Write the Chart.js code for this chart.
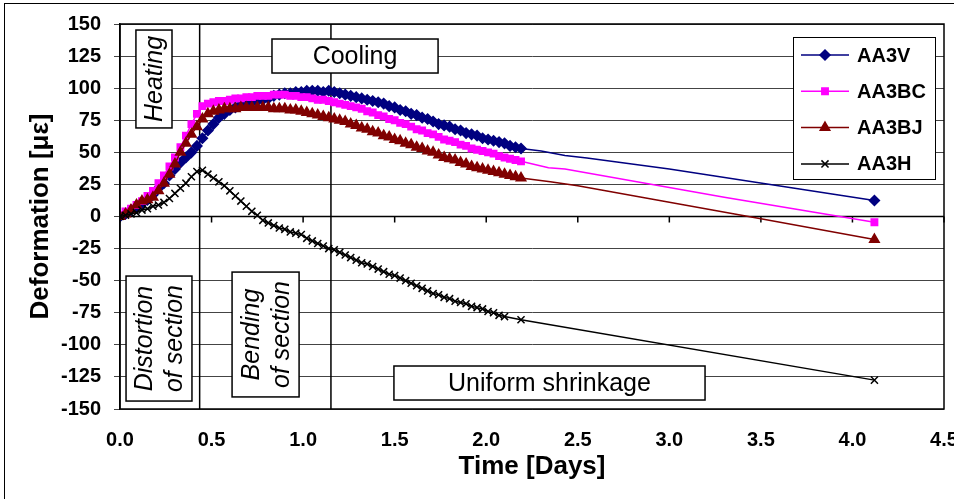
<!DOCTYPE html>
<html>
<head>
<meta charset="utf-8">
<script src="https://cdn.jsdelivr.net/npm/chart.js@4.4.1/dist/chart.umd.min.js"></script>
<style>
  body { margin: 0; background: #fff; }
  canvas { display: block; }
</style>
</head>
<body>
<canvas id="myChart" width="954" height="499"></canvas>
<script>
// dense logging period (days)
const days = [0, 0.03, 0.06, 0.09, 0.12, 0.15, 0.18, 0.21, 0.24, 0.27, 0.30, 0.33, 0.36, 0.39, 0.42, 0.45, 0.48, 0.51, 0.54, 0.57,
  0.60, 0.63, 0.66, 0.69, 0.72, 0.75, 0.78, 0.81, 0.84, 0.87, 0.90, 0.93, 0.96, 0.99, 1.02, 1.05, 1.08, 1.11, 1.14, 1.17,
  1.20, 1.23, 1.26, 1.29, 1.32, 1.35, 1.38, 1.41, 1.44, 1.47, 1.50, 1.53, 1.56, 1.59, 1.62, 1.65, 1.68, 1.71, 1.74, 1.77,
  1.80, 1.83, 1.86, 1.89, 1.92, 1.95, 1.98, 2.01, 2.04, 2.07, 2.10, 2.13, 2.16, 2.19];

const aa3v = [0, 2, 5, 7, 10, 13, 17, 22, 26, 32, 37, 42, 46, 50, 55, 61, 67, 72, 77, 80,
  83, 85, 87, 88, 89, 90, 91, 92, 94, 95, 96, 96, 97, 97, 98, 98, 98, 97, 98, 97,
  96, 95, 94, 93, 92, 91, 90, 89, 88, 86, 85, 83, 82, 80, 79, 77, 76, 74, 72, 71,
  70, 68, 67, 65, 64, 63, 61, 60, 59, 58, 57, 55, 54, 53];
const aa3bc = [1, 4, 6, 9, 12, 16, 20, 26, 32, 39, 46, 54, 63, 72, 80, 86, 88, 89, 90, 90,
  91, 92, 92, 93, 93, 94, 94, 94, 95, 95, 95, 94, 94, 93, 93, 92, 91, 91, 90, 89,
  88, 87, 86, 85, 84, 82, 81, 79, 78, 76, 75, 73, 72, 70, 68, 67, 65, 64, 62, 60,
  59, 58, 56, 55, 53, 52, 51, 50, 49, 47, 46, 45, 44, 43];
const aa3bj = [0, 2, 5, 9, 12, 13, 15, 20, 26, 33, 41, 50, 57, 64, 70, 76, 80, 82, 83, 84,
  84, 84, 85, 85, 85, 85, 85, 85, 84, 84, 84, 83, 83, 82, 81, 80, 79, 78, 77, 76,
  75, 74, 72, 71, 69, 68, 66, 65, 63, 62, 60, 59, 57, 56, 54, 53, 51, 50, 48, 46,
  45, 44, 42, 41, 39, 38, 37, 36, 35, 34, 33, 32, 31, 30];
const aa3h = [0, 1, 2, 3, 5, 6, 8, 9, 11, 14, 18, 22, 26, 31, 35, 36, 33, 30, 27, 24,
  20, 16, 12, 8, 4, 1, -3, -5, -7, -9, -10, -12, -13, -14, -17, -19, -21, -23, -25, -26,
  -28, -30, -32, -34, -36, -37, -39, -41, -43, -45, -46, -48, -50, -52, -54, -56, -58, -60, -61, -63,
  -64, -66, -67, -68, -70, -71, -72, -74, -75, -77, -78, null, null, -80.5];

// sparse readings after the dense period
const tailDaysV = [2.3, 2.43, 2.55, 3.0, 4.12];
const tailV = [51, 47.5, 45.5, 37, 12.5];
const tailDaysBC = [2.34, 2.43, 3.3, 4.12];
const tailBC = [38, 37, 15, -4.5];
const tailDaysBJ = [2.35, 2.5, 3.47, 4.12];
const tailBJ = [27, 24, -1, -18];
const tailDaysH = [4.12];
const tailH = [-127.5];

const seriesNames = ['AA3V', 'AA3BC', 'AA3BJ', 'AA3H'];
const xTicks = [0, 0.5, 1, 1.5, 2, 2.5, 3, 3.5, 4, 4.5];
const phaseLines = [0.435, 1.152];

const FONT = "'Liberation Sans', Arial, sans-serif";
Chart.defaults.font.family = FONT;
Chart.defaults.color = '#000';

const buildPoints = (vals, tDays, tVals) => {
  const pts = days.map((d, i) => ({ x: d, y: vals[i] }));
  tDays.forEach((d, i) => pts.push({ x: d, y: tVals[i] }));
  return pts;
};

const styles = [
  { color: '#000080', pointStyle: 'rectRot', radius: 5, order: 3 },
  { color: '#FF00FF', pointStyle: 'rect', radius: 4.5, order: 2 },
  { color: '#800000', pointStyle: 'triangle', radius: 5.5, order: 1 },
  { color: '#000000', pointStyle: 'crossRot', radius: 5, order: 0 }
];

const pointsList = [
  buildPoints(aa3v, tailDaysV, tailV),
  buildPoints(aa3bc, tailDaysBC, tailBC),
  buildPoints(aa3bj, tailDaysBJ, tailBJ),
  buildPoints(aa3h, tailDaysH, tailH)
];

const datasets = pointsList.map((pts, k) => {
  const s = styles[k];
  return {
    label: seriesNames[k],
    data: pts,
    borderColor: s.color,
    backgroundColor: s.color,
    borderWidth: 1.5,
    pointStyle: s.pointStyle,
    pointBorderWidth: 1.5,
    pointRadius: (c) => (c.dataIndex < days.length || c.dataIndex === pts.length - 1) ? s.radius : 0,
    pointHoverRadius: 0,
    spanGaps: true,
    tension: 0,
    order: s.order
  };
});

// text boxes, in data units
const notes = [
  { lines: ['Heating'], x0: 0.087, x1: 0.284, y0: 145.3, y1: 69.0, rotate: true, italic: true },
  { lines: ['Cooling'], x0: 0.830, x1: 1.737, y0: 138.3, y1: 111.8 },
  { lines: ['Distortion', 'of section'], x0: 0.033, x1: 0.393, y0: -46.4, y1: -143.8, rotate: true, italic: true },
  { lines: ['Bending', 'of section'], x0: 0.612, x1: 0.978, y0: -43.3, y1: -140.6, rotate: true, italic: true },
  { lines: ['Uniform shrinkage'], x0: 1.496, x1: 3.195, y0: -116.5, y1: -143.0 }
];

const overlay = {
  id: 'overlay',
  beforeDatasetsDraw(chart) {
    const { ctx, chartArea: a, scales: { x, y } } = chart;
    ctx.save();
    ctx.strokeStyle = '#000';
    ctx.lineWidth = 1.5;
    const y0 = y.getPixelForValue(0);
    ctx.beginPath();
    ctx.moveTo(a.left, y0);
    ctx.lineTo(a.right, y0);
    xTicks.forEach(t => {
      const px = x.getPixelForValue(t);
      ctx.moveTo(px, y0);
      ctx.lineTo(px, y0 + 6);
    });
    phaseLines.forEach(d => {
      const px = x.getPixelForValue(d);
      ctx.moveTo(px, a.top);
      ctx.lineTo(px, a.bottom);
    });
    ctx.stroke();
    ctx.restore();
  },
  afterDatasetsDraw(chart) {
    const { ctx, chartArea: a, scales: { x, y } } = chart;
    ctx.save();
    ctx.lineWidth = 1.5;
    ctx.strokeStyle = '#000';

    notes.forEach(n => {
      const l = x.getPixelForValue(n.x0), r = x.getPixelForValue(n.x1);
      const t = y.getPixelForValue(n.y0), b = y.getPixelForValue(n.y1);
      ctx.fillStyle = '#fff';
      ctx.fillRect(l, t, r - l, b - t);
      ctx.strokeRect(l, t, r - l, b - t);
      ctx.save();
      ctx.translate((l + r) / 2, (t + b) / 2);
      if (n.rotate) ctx.rotate(-Math.PI / 2);
      ctx.fillStyle = '#000';
      ctx.font = (n.italic ? 'italic ' : '') + '25px ' + FONT;
      ctx.textAlign = 'center';
      ctx.textBaseline = 'middle';
      n.lines.forEach((txt, i) => {
        ctx.fillText(txt, 0, (i - (n.lines.length - 1) / 2) * 30 + 1);
      });
      ctx.restore();
    });

    // legend
    const lx = a.right - 151, ly = a.top + 13, lw = 142, lh = 142;
    ctx.fillStyle = '#fff';
    ctx.fillRect(lx, ly, lw, lh);
    ctx.lineWidth = 1;
    ctx.strokeRect(lx + 0.5, ly + 0.5, lw, lh);
    seriesNames.forEach((name, k) => {
      const s = styles[k];
      const ry = ly + 18 + k * 36.3;
      ctx.strokeStyle = s.color;
      ctx.fillStyle = s.color;
      ctx.lineWidth = 1.5;
      ctx.beginPath();
      ctx.moveTo(lx + 8, ry);
      ctx.lineTo(lx + 56, ry);
      ctx.stroke();
      Chart.helpers.drawPoint(ctx, { pointStyle: s.pointStyle, radius: s.radius, rotation: 0, borderWidth: 1.5 }, lx + 32, ry);
      ctx.fillStyle = '#000';
      ctx.font = 'bold 20px ' + FONT;
      ctx.textAlign = 'left';
      ctx.textBaseline = 'middle';
      ctx.fillText(name, lx + 64, ry + 1);
    });

    // plot border and outer frame
    ctx.strokeStyle = '#000';
    ctx.lineWidth = 1.5;
    ctx.strokeRect(a.left, a.top, a.right - a.left, a.bottom - a.top);
    ctx.lineWidth = 1;
    ctx.strokeRect(4.5, 3.5, 980, 520);
    ctx.restore();
  }
};

const ctx = document.getElementById('myChart').getContext('2d');
new Chart(ctx, {
  type: 'line',
  data: { datasets: datasets },
  options: {
    responsive: false,
    animation: false,
    devicePixelRatio: 1,
    layout: { padding: { top: 24, right: 10, left: 0, bottom: 0 }, autoPadding: false },
    plugins: { legend: { display: false }, tooltip: { enabled: false } },
    scales: {
      x: {
        type: 'linear',
        min: 0,
        max: 4.5,
        afterFit: (scale) => {
          scale.height = 90;
          scale.paddingLeft = 0;
          scale.paddingRight = 0;
        },
        afterBuildTicks: (scale) => { scale.ticks = xTicks.map(v => ({ value: v })); },
        grid: { display: false, drawTicks: false },
        border: { display: false },
        ticks: {
          autoSkip: false,
          maxRotation: 0,
          padding: 19,
          font: { size: 20, weight: 'bold' },
          callback: (v) => Number(v).toFixed(1)
        },
        title: {
          display: true,
          text: 'Time [Days]',
          font: { size: 26, weight: 'bold' },
          padding: { top: 0, bottom: 17 }
        }
      },
      y: {
        min: -150,
        max: 150,
        afterFit: (scale) => {
          scale.width = 120;
          scale.paddingTop = 0;
          scale.paddingBottom = 0;
        },
        grid: { color: '#444', lineWidth: 1, tickLength: 6 },
        border: { display: true, color: '#000', width: 1.5 },
        ticks: {
          stepSize: 25,
          padding: 13,
          font: { size: 20, weight: 'bold' }
        },
        title: {
          display: true,
          text: 'Deformation [\u03bc\u03b5]',
          font: { size: 26, weight: 'bold' },
          padding: { top: 25, bottom: 0 }
        }
      }
    }
  },
  plugins: [overlay]
});
</script>
</body>
</html>
